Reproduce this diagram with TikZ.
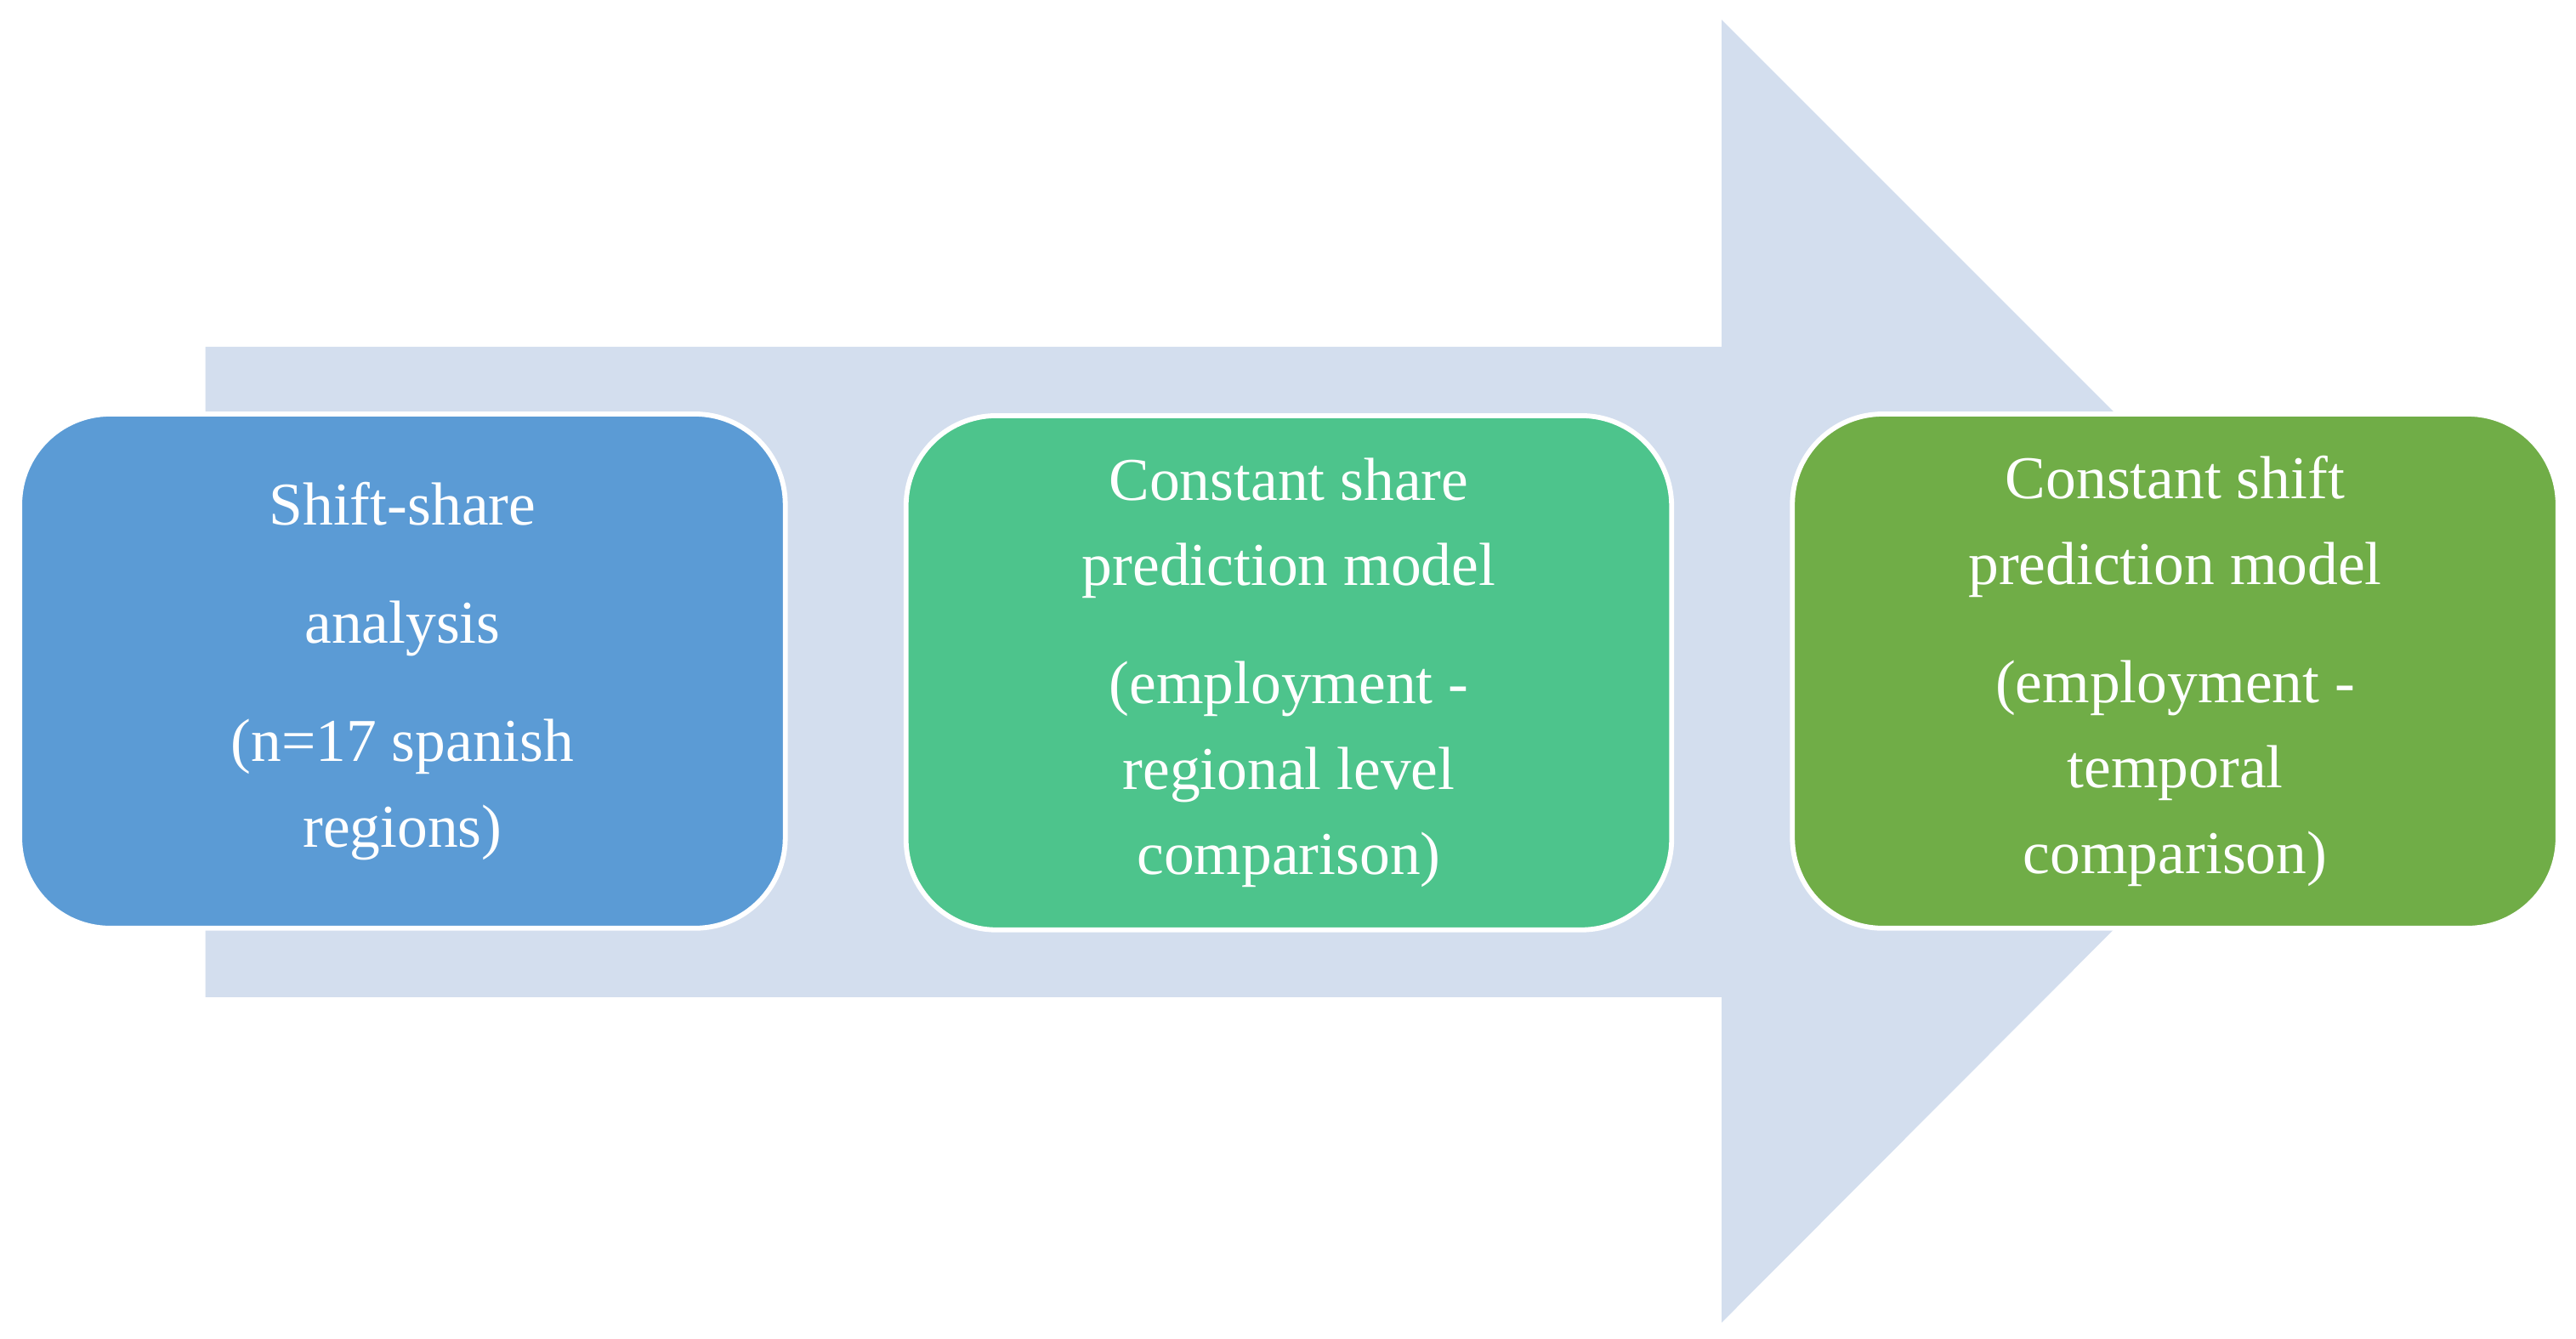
\documentclass[tikz,border=0pt]{standalone}
\usepackage{fontspec}
\setmainfont{Liberation Serif}
\definecolor{arrowc}{HTML}{D3DEEE}
\definecolor{c1}{HTML}{5B9BD5}
\definecolor{c2}{HTML}{4DC48C}
\definecolor{c3}{HTML}{70AD47}
\tikzset{box/.style={draw=white,line width=3pt,rounded corners=55pt,minimum width=466pt,minimum height=313pt,text=white,align=center,font=\fontsize{37}{52}\selectfont}}
\begin{document}
\begin{tikzpicture}[x=1pt,y=-1pt]
\useasboundingbox (0,0) rectangle (1568,815);
\fill[arrowc] (125,211) -- (1048,211) -- (1048,12) -- (1444,408) -- (1048,805) -- (1048,607) -- (125,607) -- cycle;
\node[box,fill=c1] (a) at (245,408.5) {Shift-share\\[20pt]analysis\\[20pt](n=17 spanish\\regions)};
\node[box,fill=c2] (b) at (784.5,409.5) {Constant share\\prediction model\\[20pt](employment -\\regional level\\comparison)};
\node[box,fill=c3] (c) at (1324,408.5) {Constant shift\\prediction model\\[20pt](employment -\\temporal\\comparison)};
\end{tikzpicture}
\end{document}
